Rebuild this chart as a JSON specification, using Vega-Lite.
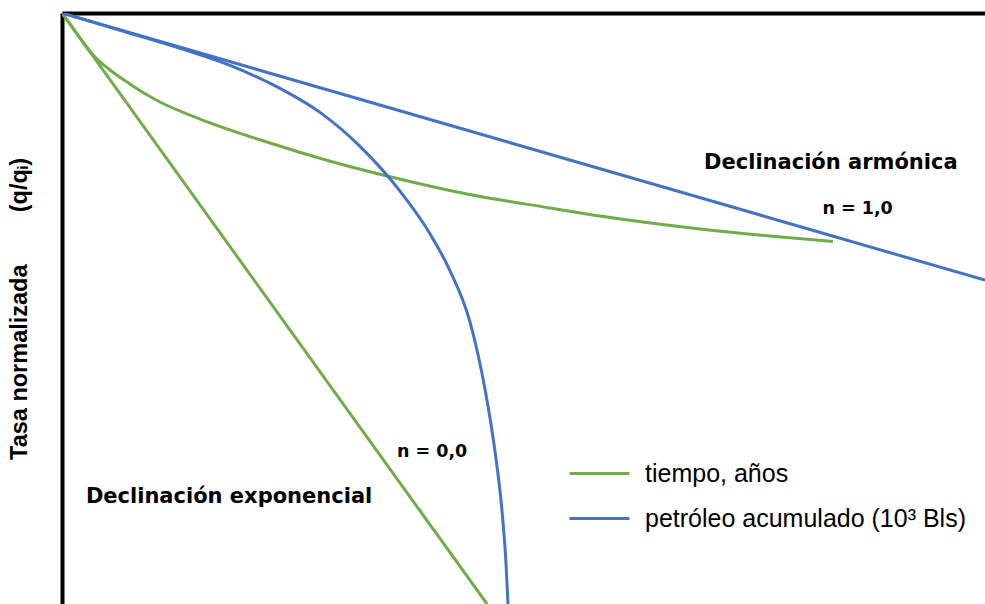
{
  "$schema": "https://vega.github.io/schema/vega-lite/v6.json",
  "width": 923,
  "height": 591,
  "autosize": "none",
  "padding": {"left": 62, "top": 13, "right": 0, "bottom": 0},
  "background": "white",
  "config": {"view": {"stroke": null}, "font": "Liberation Sans"},
  "datasets": {
    "curvas": [
      {"curva": "exp_t", "serie": "tiempo, años", "x": 0, "y": 1},
      {"curva": "exp_t", "serie": "tiempo, años", "x": 46.05, "y": 0},
      {"curva": "arm_t", "serie": "tiempo, años", "x": 0, "y": 1},
      {"curva": "arm_t", "serie": "tiempo, años", "x": 1.408, "y": 0.9695},
      {"curva": "arm_t", "serie": "tiempo, años", "x": 2.492, "y": 0.9459},
      {"curva": "arm_t", "serie": "tiempo, años", "x": 3.575, "y": 0.9255},
      {"curva": "arm_t", "serie": "tiempo, años", "x": 5.2, "y": 0.9036},
      {"curva": "arm_t", "serie": "tiempo, años", "x": 7.042, "y": 0.8832},
      {"curva": "arm_t", "serie": "tiempo, años", "x": 8.776, "y": 0.8655},
      {"curva": "arm_t", "serie": "tiempo, años", "x": 10.618, "y": 0.8494},
      {"curva": "arm_t", "serie": "tiempo, años", "x": 14.951, "y": 0.8206},
      {"curva": "arm_t", "serie": "tiempo, años", "x": 22.21, "y": 0.7817},
      {"curva": "arm_t", "serie": "tiempo, años", "x": 29.361, "y": 0.7479},
      {"curva": "arm_t", "serie": "tiempo, años", "x": 35.211, "y": 0.7242},
      {"curva": "arm_t", "serie": "tiempo, años", "x": 43.879, "y": 0.6937},
      {"curva": "arm_t", "serie": "tiempo, años", "x": 52.871, "y": 0.6701},
      {"curva": "arm_t", "serie": "tiempo, años", "x": 58.288, "y": 0.6565},
      {"curva": "arm_t", "serie": "tiempo, años", "x": 69.122, "y": 0.6345},
      {"curva": "arm_t", "serie": "tiempo, años", "x": 83.532, "y": 0.6134},
      {"curva": "arm_p", "serie": "petróleo acumulado (10³ Bls)", "x": 0, "y": 1},
      {"curva": "arm_p", "serie": "petróleo acumulado (10³ Bls)", "x": 100, "y": 0.548},
      {"curva": "exp_p", "serie": "petróleo acumulado (10³ Bls)", "x": 0, "y": 1},
      {"curva": "exp_p", "serie": "petróleo acumulado (10³ Bls)", "x": 6.284, "y": 0.9706},
      {"curva": "exp_p", "serie": "petróleo acumulado (10³ Bls)", "x": 12.784, "y": 0.9401},
      {"curva": "exp_p", "serie": "petróleo acumulado (10³ Bls)", "x": 18.2, "y": 0.9113},
      {"curva": "exp_p", "serie": "petróleo acumulado (10³ Bls)", "x": 23.62, "y": 0.8724},
      {"curva": "exp_p", "serie": "petróleo acumulado (10³ Bls)", "x": 27.95, "y": 0.8318},
      {"curva": "exp_p", "serie": "petróleo acumulado (10³ Bls)", "x": 32.29, "y": 0.7743},
      {"curva": "exp_p", "serie": "petróleo acumulado (10³ Bls)", "x": 36.62, "y": 0.6985},
      {"curva": "exp_p", "serie": "petróleo acumulado (10³ Bls)", "x": 39.87, "y": 0.6264},
      {"curva": "exp_p", "serie": "petróleo acumulado (10³ Bls)", "x": 42.04, "y": 0.5638},
      {"curva": "exp_p", "serie": "petróleo acumulado (10³ Bls)", "x": 44.2, "y": 0.4775},
      {"curva": "exp_p", "serie": "petróleo acumulado (10³ Bls)", "x": 45.83, "y": 0.3633},
      {"curva": "exp_p", "serie": "petróleo acumulado (10³ Bls)", "x": 46.91, "y": 0.2584},
      {"curva": "exp_p", "serie": "petróleo acumulado (10³ Bls)", "x": 47.67, "y": 0.1577},
      {"curva": "exp_p", "serie": "petróleo acumulado (10³ Bls)", "x": 48.1, "y": 0.0697},
      {"curva": "exp_p", "serie": "petróleo acumulado (10³ Bls)", "x": 48.32, "y": 0}
    ],
    "notas": [
      {"texto": "Declinación armónica", "x": 83.3, "y": 0.746, "tam": "grande"},
      {"texto": "n = 1,0", "x": 86.2, "y": 0.668, "tam": "chico"},
      {"texto": "n = 0,0", "x": 40.1, "y": 0.257, "tam": "chico"},
      {"texto": "Declinación exponencial", "x": 18.1, "y": 0.181, "tam": "grande"}
    ]
  },
  "layer": [
    {
      "data": {"name": "curvas"},
      "mark": {"type": "line", "strokeWidth": 3, "clip": true, "interpolate": "monotone"},
      "encoding": {
        "x": {
          "field": "x", "type": "quantitative",
          "scale": {"domain": [0, 100], "nice": false, "zero": false},
          "axis": {"orient": "top", "labels": false, "ticks": false, "grid": false, "title": null, "domainColor": "black", "domainWidth": 4}
        },
        "y": {
          "field": "y", "type": "quantitative",
          "scale": {"domain": [0, 1], "nice": false},
          "axis": {"labels": false, "ticks": false, "grid": false, "title": "Tasa normalizada\u00a0\u00a0\u00a0\u00a0\u00a0\u00a0\u00a0\u00a0(q/qᵢ)", "titleFont": "Liberation Sans", "titleFontSize": 23.5, "titleFontWeight": "bold", "titleColor": "black", "titlePadding": 31, "domainColor": "black", "domainWidth": 4}
        },
        "color": {
          "field": "serie", "type": "nominal",
          "scale": {"domain": ["tiempo, años", "petróleo acumulado (10³ Bls)"], "range": ["#70AD47", "#4472C4"]},
          "legend": {"orient": "none", "legendX": 506, "legendY": 429, "title": null, "symbolType": "stroke", "symbolSize": 3600, "symbolStrokeWidth": 3, "labelFontSize": 25, "labelFont": "Liberation Sans", "labelColor": "black", "labelOffset": 14, "labelLimit": 600, "rowPadding": -2}
        },
        "detail": {"field": "curva"}
      }
    },
    {
      "data": {"name": "notas"},
      "mark": {"type": "text", "fontWeight": "bold", "align": "center", "baseline": "middle", "color": "black", "font": "DejaVu Sans"},
      "encoding": {
        "x": {"field": "x", "type": "quantitative"},
        "y": {"field": "y", "type": "quantitative"},
        "text": {"field": "texto"},
        "size": {"field": "tam", "type": "nominal", "scale": {"domain": ["grande", "chico"], "range": [21, 17.5]}, "legend": null}
      }
    }
  ]
}
